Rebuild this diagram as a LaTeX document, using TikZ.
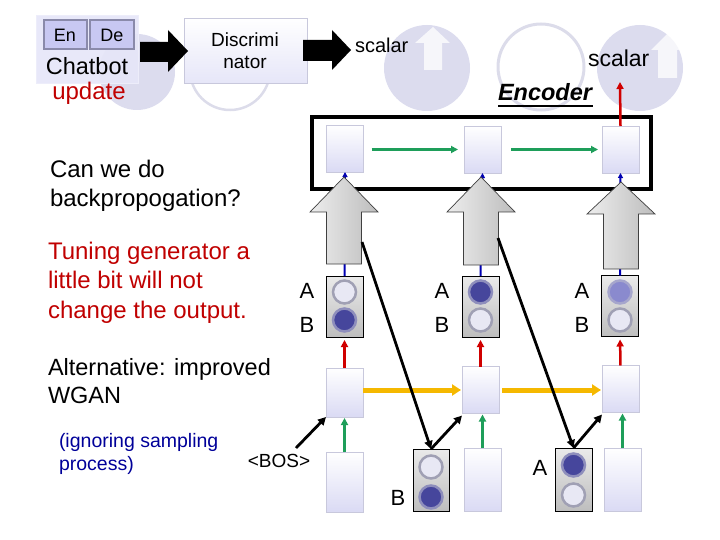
\documentclass[tikz,border=0pt]{standalone}
\usepackage{fontspec}
\setmainfont{Liberation Sans}
\usetikzlibrary{arrows.meta}
\definecolor{bgc}{HTML}{DCDCEE}
\definecolor{bgring}{HTML}{DCDCEA}
\definecolor{cellb}{HTML}{C8C8DC}
\definecolor{cellf}{HTML}{DADAF4}
\definecolor{pbt}{HTML}{EAEAEA}
\definecolor{pbb}{HTML}{BEBEBE}
\definecolor{ringc}{HTML}{A0A0B4}
\definecolor{emptyc}{HTML}{E8E8F4}
\definecolor{darkc}{HTML}{46469C}
\definecolor{darkr}{HTML}{8E8EBC}
\definecolor{medc}{HTML}{8A8ACE}
\definecolor{medr}{HTML}{A6A6CC}
\definecolor{redc}{HTML}{D00000}
\definecolor{redtxt}{HTML}{C00000}
\definecolor{greenc}{HTML}{1E9E5A}
\definecolor{yellowc}{HTML}{F5B800}
\definecolor{bluetxt}{HTML}{000099}
\definecolor{chatf}{HTML}{E6E6F8}
\definecolor{enf}{HTML}{C8C8F2}
\definecolor{enb}{HTML}{8A8AAA}
\definecolor{grayl}{HTML}{EDEDED}
\definecolor{grayr}{HTML}{BDBDBD}
\begin{document}
\begin{tikzpicture}[x=1pt,y=-1pt,
  every node/.style={inner sep=0pt, outer sep=0pt},
  cell/.style={draw=cellb, line width=0.6pt, top color=white, bottom color=cellf, minimum width=37pt, minimum height=47pt},
  incell/.style={cell, minimum height=61pt},
  pbox/.style={draw=black, line width=0.7pt, top color=pbt, bottom color=pbb, minimum width=37pt, minimum height=61pt},
  light/.style={draw=ringc, fill=emptyc, line width=2.5pt},
  dark/.style={draw=darkr, fill=darkc, line width=2.5pt},
  medium/.style={draw=medr, fill=medc, line width=2.5pt},
  redarr/.style={draw=redc, line width=2.5pt, -{Triangle[length=7pt,width=7pt]}},
  greenarr/.style={draw=greenc, line width=2.5pt, -{Triangle[length=7pt,width=7pt]}},
  yelarr/.style={draw=yellowc, line width=5pt, -{Triangle[length=9pt,width=11pt]}},
  blackarr/.style={draw=black, line width=2.8pt, -{Triangle[length=8pt,width=8pt]}},
  bluearr/.style={draw=blue!70!black, line width=2pt, -{Triangle[length=5pt,width=5pt]}},
  bigtxt/.style={font=\fontsize{24}{29.5}\selectfont, align=left, anchor=base west},
  lab/.style={font=\fontsize{22}{26}\selectfont, anchor=base},
  garrow/.style={draw=black!75, line width=0.7pt, left color=grayl, right color=grayr},
  warrow/.style={fill=white, fill opacity=0.75}
]
\useasboundingbox (0,0) rectangle (720,540);

% background decorations
\fill[bgc] (137,72) circle (38);
\draw[bgring, line width=2.5pt, fill=white] (230,70) circle (40);
\fill[bgc] (427,68) circle (43);
\draw[bgring, line width=3pt, fill=white] (541,67) circle (43);
\fill[bgc] (640,68) circle (43);
\fill[warrow] (433,27) -- (450,43) -- (442,43) -- (442,70) -- (424,70) -- (424,43) -- (415,43) -- cycle;
\fill[warrow] (668,33) -- (685,50) -- (677,50) -- (677,78) -- (658,78) -- (658,50) -- (651,50) -- cycle;

% chatbot box
\node[draw=chatf!70!white, fill=chatf, fill opacity=0.9, minimum width=102pt, minimum height=68pt] (chat) at (87,49) {};
\node[draw=enb, fill=enf, line width=2pt, minimum width=43pt, minimum height=29pt, font=\fontsize{18}{20}\selectfont] (en) at (65,35) {En};
\node[draw=enb, fill=enf, line width=2pt, minimum width=44pt, minimum height=29pt, font=\fontsize{18}{20}\selectfont] (de) at (112,35) {De};
\node[lab, font=\fontsize{23.5}{26}\selectfont] (chatbot) at (87,75) {Chatbot};
\node[lab, text=redtxt, font=\fontsize{24}{26}\selectfont] (update) at (89,100) {update};

% discriminator
\node[draw=cellb, top color=white, bottom color=chatf, minimum width=123pt, minimum height=65pt] (disc) at (245.5,50.5) {};
\node[font=\fontsize{19}{22}\selectfont, align=center, anchor=base] (disctxt) at (245,69) {Discrimi\\nator};

% black block arrows
\fill[black] (140,42) -- (168,42) -- (168,30) -- (188,51) -- (168,72) -- (168,62) -- (140,62) -- cycle;
\fill[black] (303,40) -- (332,40) -- (332,30) -- (351,50) -- (332,70) -- (332,61) -- (303,61) -- cycle;
\node[font=\fontsize{20}{24}\selectfont, anchor=base west] (scalar1) at (355,53) {scalar};
\node[font=\fontsize{23}{26}\selectfont, anchor=base west] (scalar2) at (588,67) {scalar};
\node[font=\fontsize{23.5}{26}\selectfont\bfseries\itshape, anchor=base west] (enc) at (498,101) {Encoder};
\draw[line width=1.8pt] (498,106) -- (593,106);

% left texts (base anchor = baseline of last line)
\node[bigtxt] (q) at (50,207) {Can we do\\backpropogation?};
\node[bigtxt, text=redtxt] (tune) at (48,318) {Tuning generator a\\little bit will not\\change the output.};
\node[bigtxt, font=\fontsize{23.5}{27.5}\selectfont] (alt) at (48,403) {Alternative: improved\\WGAN};
\node[bigtxt, text=bluetxt, font=\fontsize{19.5}{22.5}\selectfont] (ign) at (59,470) {(ignoring sampling\\process)};
\node[font=\fontsize{19}{22}\selectfont, anchor=base] (bostxt) at (279,467) {<BOS>};
\coordinate (bos) at (296,448);

% encoder
\draw[line width=3.5pt] (312,117) rectangle (651,189);
\node[cell] (e1) at (345,148.5) {};
\node[cell] (e2) at (482.5,149.5) {};
\node[cell] (e3) at (620.5,149.5) {};
\draw[greenarr, shorten <=8pt, shorten >=6pt] (e1.east |- e2.west) -- (e2.west);
\draw[greenarr, shorten <=10pt, shorten >=4pt] (e2.east) -- (e3.west);
\coordinate (sc2) at (620,82);
\draw[redarr] (e3.north) -- (sc2);

% probability boxes
\node[pbox] (p1) at (344.5,306.5) {};
\node[pbox] (p2) at (480.5,306.5) {};
\node[pbox] (p3) at (620,306) {};
\draw[light] (344.5,292) circle (11.5);
\draw[dark] (344.5,320) circle (11.5);
\draw[dark] (480.5,292) circle (11.5);
\draw[light] (480.5,320) circle (11.5);
\draw[medium] (620,292) circle (11.5);
\draw[light] (620,320) circle (11.5);
\node[lab] (a1) at (307,298) {A};
\node[lab] (b1) at (307,332) {B};
\node[lab] (a2) at (442,298) {A};
\node[lab] (b2) at (442,332) {B};
\node[lab] (a3) at (582,298) {A};
\node[lab] (b3) at (582,332) {B};

% hidden blue links
\draw[bluearr] (p1.north) -- (e1.south);
\draw[bluearr] (p2.north) -- (e2.south);
\draw[bluearr] (p3.north) -- (e3.south);

% gray block arrows
\foreach \cx/\ty/\hb/\bt in {344/177/212/264, 481/177/212/265, 621/182/214/269}{
  \draw[garrow] (\cx,\ty) -- (\cx+34,\hb) -- (\cx+17.5,\hb) -- (\cx+17.5,\bt) -- (\cx-17.5,\bt) -- (\cx-17.5,\hb) -- (\cx-34,\hb) -- cycle;
}

% decoder
\node[cell, minimum height=49pt] (d1) at (344.5,392.5) {};
\node[cell] (d2) at (480.5,390) {};
\node[cell] (d3) at (620.5,389) {};
\draw[redarr, shorten >=3pt] (d1.north) -- (p1.south);
\draw[redarr, shorten >=3pt] (d2.north) -- (p2.south);
\draw[redarr, shorten >=3pt] (d3.north) -- (p3.south);
\draw[yelarr, shorten >=1pt] (d1.east |- d2.west) -- (d2.west);
\draw[yelarr, shorten <=3pt, shorten >=1pt] (d2.east) -- (d2.east -| d3.west);

% inputs
\node[incell, minimum height=60pt] (i1) at (344.5,482) {};
\node[incell, minimum height=63pt] (i2) at (482.5,479.5) {};
\node[incell, minimum height=63pt] (i3) at (622.5,479.5) {};
\draw[greenarr, shorten >=1pt] (i1.north) -- (d1.south);
\draw[greenarr, shorten >=1pt] (i2.north) -- (i2.north |- d2.south);
\draw[greenarr, shorten >=1pt] (i3.north) -- (i3.north |- d3.south);

% sampled boxes
\node[pbox, minimum width=36pt, minimum height=62pt] (q1) at (431,480) {};
\node[pbox, minimum width=37pt, minimum height=63pt] (q2) at (573.5,479.5) {};
\draw[light] (431,467) circle (11.5);
\draw[dark] (431,497) circle (11.5);
\draw[dark] (573.5,465) circle (11.5);
\draw[light] (573.5,495) circle (11.5);
\node[lab] (bq) at (398,505) {B};
\node[lab] (aq) at (540,475) {A};

% black connectors
\coordinate (l1) at (362,242);
\coordinate (l2) at (498,238);
\draw[blackarr] (l1) -- (q1.north);
\draw[blackarr] (l2) -- (q2.north);
\draw[blackarr] (bos) -- (d1.south west);
\draw[blackarr] (q1.north) -- ([yshift=-2pt]d2.south west);
\draw[blackarr] (q2.north) -- ([yshift=-2pt]d3.south west);
\end{tikzpicture}
\end{document}
